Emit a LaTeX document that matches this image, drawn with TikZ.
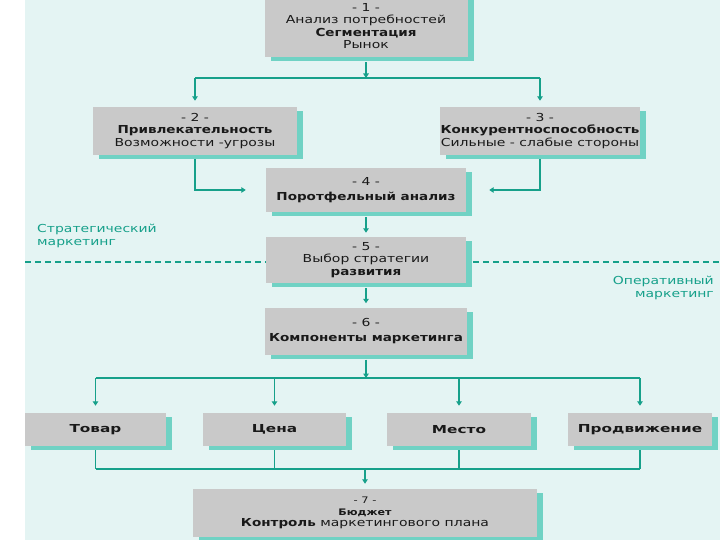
\documentclass[tikz,border=0pt]{standalone}
\usepackage{fontspec}
\setmainfont[FakeStretch=1.27]{DejaVu Sans}
\newfontfamily\bbfam[FakeStretch=1.23]{DejaVu Sans}
\newfontfamily\wbfam[FakeStretch=1.39]{DejaVu Sans}
\newcommand\tb[1]{{\bbfam\bfseries #1}}
\usetikzlibrary{arrows.meta,shadows,calc}
\definecolor{bgc}{RGB}{228,244,243}
\definecolor{tealc}{RGB}{22,160,138}
\definecolor{shc}{RGB}{112,210,196}
\definecolor{boxc}{RGB}{201,201,201}
\definecolor{txtc}{RGB}{25,25,25}
\begin{document}
\begin{tikzpicture}[x=1pt,y=-1pt,
  box/.style={fill=boxc, draw=none, inner sep=0pt, align=center,
    font=\fontsize{11}{12.5}\selectfont, text=txtc,
    general shadow={fill=shc, shadow xshift=6pt, shadow yshift=-4pt}},
  smallbox/.style={box, minimum height=33pt, font=\wbfam\bfseries\fontsize{11}{12.5}\selectfont},
  conn/.style={draw=tealc, line width=1.7pt},
  arr/.style={conn, -{Triangle[length=4.5pt,width=5.5pt]}},
  lab/.style={text=tealc, inner sep=0pt, font=\fontsize{11}{12.5}\selectfont},
]
\useasboundingbox (0,0) rectangle (720,540);
\fill[white] (0,0) rectangle (720,540);
\fill[bgc] (25,0) rectangle (720,540);

\node[box, minimum width=203pt, minimum height=62pt] (box1) at (366,26)
  {- 1 -\\Анализ потребностей\\\tb{Сегментация}\\Рынок};
\node[box, minimum width=204pt, minimum height=48pt] (box2) at (195,131)
  {- 2 -\\\tb{Привлекательность}\\Возможности -угрозы};
\node[box, minimum width=200pt, minimum height=48pt] (box3) at (540,131)
  {- 3 -\\\tb{Конкурентноспособность}\\Сильные - слабые стороны};
\node[box, minimum width=200pt, minimum height=44pt, font=\fontsize{11}{15}\selectfont] (box4) at (366,190)
  {- 4 -\\\tb{Поротфельный анализ}};
\node[box, minimum width=200pt, minimum height=46pt] (box5) at (366,260)
  {- 5 -\\Выбор стратегии\\\tb{развития}};
\node[box, minimum width=202pt, minimum height=47pt, font=\fontsize{11}{15}\selectfont] (box6) at (366,331)
  {- 6 -\\\tb{Компоненты маркетинга}};
\node[smallbox, minimum width=141pt] (tov) at (95.5,429.5) {Товар};
\node[smallbox, minimum width=143pt] (cen) at (274.5,429.5) {Цена};
\node[smallbox, minimum width=144pt] (mes) at (459,429.5) {Место};
\node[smallbox, minimum width=144pt] (pro) at (640,429.5) {Продвижение};
\node[box, minimum width=344pt, minimum height=48pt, font=\fontsize{11}{11.5}\selectfont] (box7) at (365,513)
  {{\small - 7 -}\\{\small\bbfam\bfseries Бюджет}\\\tb{Контроль} маркетингового плана};

\node[lab, anchor=north west, align=left] (strat) at (37,224) {Стратегический\\маркетинг};
\node[lab, anchor=north east, align=right] (oper) at (714,276) {Оперативный\\маркетинг};

% connectors
\coordinate (b1) at (366,78);
\draw[arr, shorten <=5pt] (box1.south) -- (b1);
\draw[conn] (box2.north |- b1) -- (box3.north |- b1);
\draw[arr, shorten >=6pt] (box2.north |- b1) -- (box2.north);
\draw[arr, shorten >=6pt] (box3.north |- b1) -- (box3.north);
\draw[arr, shorten <=4pt, shorten >=20pt] (box2.south) |- (box4.west);
\draw[arr, shorten <=4pt, shorten >=23pt] (box3.south) |- (box4.east);
\draw[arr, shorten <=5pt, shorten >=4pt] (box4.south) -- (box5.north);
\draw[arr, shorten <=5pt, shorten >=4pt] (box5.south) -- (box6.north);

\coordinate (dl) at (25,262);
\coordinate (dr) at (720,262);
\draw[conn, line width=1.4pt, dash pattern=on 6pt off 4pt] (dl) -- (dl -| box5.west);
\draw[conn, line width=1.4pt, dash pattern=on 6pt off 4pt] ($(dr -| box5.east)+(7,0)$) -- (dr);

\coordinate (b2) at (366,378);
\draw[arr, shorten <=5pt] (box6.south) -- (b2);
\draw[conn] (tov.north |- b2) -- (pro.north |- b2);
\foreach \n in {tov,cen,mes,pro}{
  \draw[arr, shorten >=7pt] (\n.north |- b2) -- (\n.north);
  \draw[conn, shorten <=4pt] (\n.south) -- (\n.south |- 0,469);
}
\coordinate (b3) at (365,469);
\draw[conn] (tov.south |- b3) -- (pro.south |- b3);
\draw[arr, shorten >=5pt] (b3) -- (box7.north);
\end{tikzpicture}
\end{document}
